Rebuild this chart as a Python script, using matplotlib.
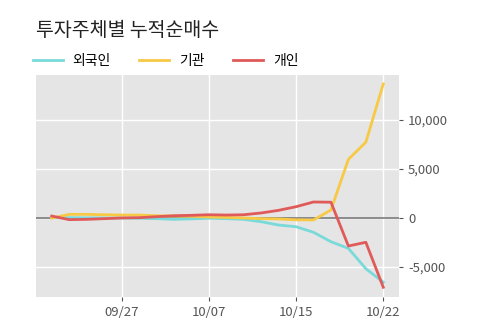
import numpy as np
import matplotlib
matplotlib.use("Agg")
import matplotlib.pyplot as plt
from matplotlib.ticker import FuncFormatter

plt.rcParams['font.family'] = ['Noto Sans CJK KR', 'DejaVu Sans']

# trading days 2019-09-23 .. 2019-10-22
dates = ['09/23', '09/24', '09/25', '09/26', '09/27',
         '09/30', '10/01', '10/02', '10/04', '10/07',
         '10/08', '10/10', '10/11', '10/14', '10/15',
         '10/16', '10/17', '10/18', '10/21', '10/22']
foreign = [0, 0, -20, -30, -40, -60, -100, -170, -120, -60,
           -100, -170, -410, -750, -920, -1490, -2450, -3130, -5200, -6580]
inst = [-50, 340, 340, 300, 270, 270, 200, 170, 140, 70,
        30, -30, -100, -130, -220, -235, 785, 5950, 7700, 13640]
indiv = [170, -200, -170, -100, -30, 0, 100, 200, 240, 300,
         270, 300, 480, 750, 1120, 1600, 1580, -2890, -2510, -7100]
tick_labels = ['09/27', '10/07', '10/15', '10/22']

x = np.arange(len(dates))

fig = plt.figure(figsize=(5, 3.23), dpi=100)
ax = fig.add_axes([0.072, 0.0805, 0.726, 0.6875])
ax.set_facecolor('#e5e5e5')
for s in ax.spines.values():
    s.set_visible(False)

ax.axhline(0, color='#7a7a7a', lw=1.2, zorder=1)
ax.plot(x, foreign, color='#7ad9d9', lw=2, label='외국인', zorder=3)
ax.plot(x, inst, color='#f7c945', lw=2, label='기관', zorder=3)
ax.plot(x, indiv, color='#e05a5a', lw=2, label='개인', zorder=4)

ax.set_xlim(-0.9, len(dates) - 0.1)
ax.set_ylim(-8090, 14560)
ax.set_xticks([dates.index(d) for d in tick_labels])
ax.set_xticklabels(tick_labels)
ax.set_yticks([-5000, 0, 5000, 10000])
ax.yaxis.set_major_formatter(FuncFormatter(lambda v, p: f'{int(v):,}'))
ax.yaxis.tick_right()
ax.grid(True, color='white', lw=1)
ax.set_axisbelow(True)
ax.tick_params(colors='#555555', labelsize=9.5, length=3, width=0.8)

fig.text(0.072, 0.905, '투자주체별 누적순매수', fontsize=14, color='#222222', va='center')
fig.legend(loc='center left', bbox_to_anchor=(0.04, 0.812), ncol=3, frameon=False,
           fontsize=10, handlelength=2.16, handletextpad=0.72, columnspacing=2.05)

fig.savefig('out.png', dpi=100)
